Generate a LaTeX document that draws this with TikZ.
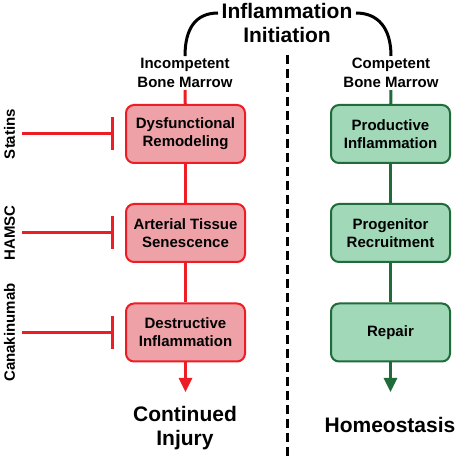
\documentclass[tikz,border=0pt]{standalone}
\usepackage{fontspec}
\setmainfont{Liberation Sans}
\usepackage{xcolor}
\usepackage{tikz}
\usetikzlibrary{arrows.meta}
\definecolor{inflred}{HTML}{EE1C25}
\definecolor{inflpink}{HTML}{EEA2A8}
\definecolor{healgreen}{HTML}{1F6B3A}
\definecolor{healmint}{HTML}{A0D8B8}

\begin{document}
\begin{tikzpicture}[x=1pt,y=1pt,
redbox/.style={draw=inflred,fill=inflpink,line width=2pt,rounded corners=8pt,minimum width=119pt,minimum height=58pt,align=center,inner sep=0pt,font=\fontsize{15}{18}\selectfont\bfseries},
greenbox/.style={redbox,draw=healgreen,fill=healmint},
lbl/.style={align=center,inner sep=2pt,font=\fontsize{15}{19}\selectfont\bfseries},
big/.style={align=center,inner sep=2pt,font=\fontsize{21}{24}\selectfont\bfseries},
drug/.style={rotate=90,anchor=base,inner sep=0pt,font=\fontsize{15}{18}\selectfont\bfseries},
redlink/.style={draw=inflred,line width=3pt},
greenlink/.style={draw=healgreen,line width=3pt},
inhib/.style={redlink,-{Bar[width=33pt]},shorten <=7pt,shorten >=11pt},
tip/.style={-{Triangle[length=14pt,width=13pt]}}]
\useasboundingbox(0,0)rectangle(459,-457);
\node[big](init)at(287,-23){Inflammation\\Initiation};
\node[lbl](incomp)at(185,-73){Incompetent\\Bone Marrow};
\node[lbl](comp)at(391,-73){Competent\\Bone Marrow};
\coordinate(initL)at(218,-13);
\coordinate(initR)at(356,-13);
\draw[line width=3pt](incomp.north)..controls +(0,28) and +(-22,0)..(initL)
(initR)..controls +(22,0) and +(0,28)..(comp.north);
\coordinate(dtop)at(287,-55);
\coordinate(dbot)at(287,-457);
\draw[line width=3pt,dash pattern=on 9pt off 5pt](dtop)--(dbot);
%left column
\node[redbox](dys)at(185.5,-134){Dysfunctional\\Remodeling};
\node[redbox](sen)at(185.5,-233){Arterial Tissue\\Senescence};
\node[redbox](des)at(185.5,-332.5){Destructive\\Inflammation};
\coordinate(injtip)at(185.5,-392);
\node[big](injury)at(185,-428){Continued\\Injury};
\draw[redlink](incomp)--(dys);
\draw[redlink](dys)--(sen);
\draw[redlink](sen)--(des);
\draw[redlink,tip,fill=inflred](des)--(injtip);
\node[drug](statins)at(15,-134){Statins};
\node[drug](hamsc)at(15,-233){HAMSC};
\node[drug](cana)at(15,-332.5){Canakinumab};
\draw[inhib](statins.south)--(dys.west);
\draw[inhib](hamsc.south)--(sen.west);
\draw[inhib](cana.south)--(des.west);
%right column
\node[greenbox](prod)at(390.5,-134){Productive\\Inflammation};
\node[greenbox](prog)at(390.5,-233){Progenitor\\Recruitment};
\node[greenbox](rep)at(390.5,-332.5){Repair};
\coordinate(reptip)at(390.5,-392);
\node[big](homeo)at(390,-425){Homeostasis};
\draw[greenlink](comp)--(prod);
\draw[greenlink](prod)--(prog);
\draw[greenlink](prog)--(rep);
\draw[greenlink,tip,fill=healgreen](rep)--(reptip);
\end{tikzpicture}
\end{document}
